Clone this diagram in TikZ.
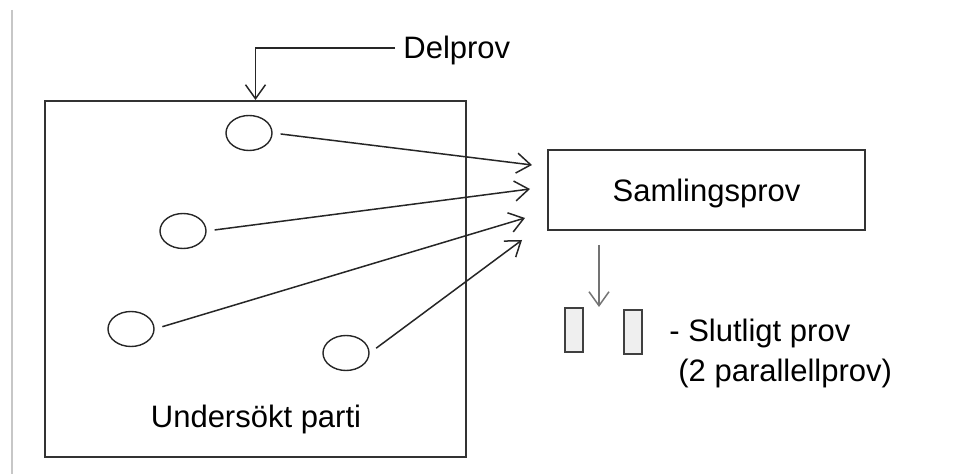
\documentclass[tikz,border=0pt]{standalone}
\usepackage{fontspec}
\setmainfont{Liberation Sans}
\usetikzlibrary{arrows.meta,shapes.geometric}
\definecolor{ram}{HTML}{333333}
\definecolor{ljus}{HTML}{EFEFEF}

\begin{document}
\begin{tikzpicture}[x=0.5pt,y=-0.5pt,font=\fontsize{15.5}{19}\selectfont,
box/.style={draw=ram,line width=1pt,inner sep=0pt},
dp/.style={draw=black!85,ellipse,line width=.7pt,minimum width=23pt,minimum height=17.5pt,inner sep=0pt},
rp/.style={draw=black!75,fill=ljus,line width=1pt,minimum width=9pt,minimum height=22pt,inner sep=0pt},
txt/.style={inner sep=0pt},
a/.style={-{Straight Barb[length=7pt,width=10pt]},line width=.75pt,black!85}]
\useasboundingbox (0,0) rectangle (976,474);
\draw[black!22,line width=.75pt] (12,10) -- (12,474);
\node[box,minimum width=210.5pt,minimum height=178pt](parti) at (255.5,279){};
\node[txt,anchor=base](partitxt) at (256,428){Undersökt parti};
\node[box,minimum width=158.5pt,minimum height=40pt,text depth=0pt](samling) at (706.5,190){Samlingsprov};
\node[txt,anchor=base west,inner sep=4pt,text depth=0pt](delprov) at (395,59){Delprov};
\node[dp](dp1) at (249,133){};
\node[dp](dp2) at (183,231){};
\node[dp](dp3) at (131,329){};
\node[dp](dp4) at (346,353){};
\node[rp](prov1) at (574,330){};
\node[rp](prov2) at (633,332){};
\node[txt,anchor=base west](slut) at (669,342){- Slutligt prov};
\node[txt,anchor=base west](parallell) at (678,382){(2 parallellprov)};
\coordinate (in1) at (532,165); \coordinate (in2) at (530,189);
\coordinate (in3) at (525,218); \coordinate (in4) at (522,240);
\coordinate (ut) at (599,245);
\draw[a](delprov.west) -| (parti.north);
\draw[a,shorten <=4pt](dp1.east)--(in1);\draw[a,shorten <=4pt](dp2.east)--(in2);
\draw[a,shorten <=4pt](dp3.east)--(in3);\draw[a,shorten <=4pt](dp4.east)--(in4);
\draw[a,black!55](ut)--(ut |- prov1.north);
\end{tikzpicture}
\end{document}
